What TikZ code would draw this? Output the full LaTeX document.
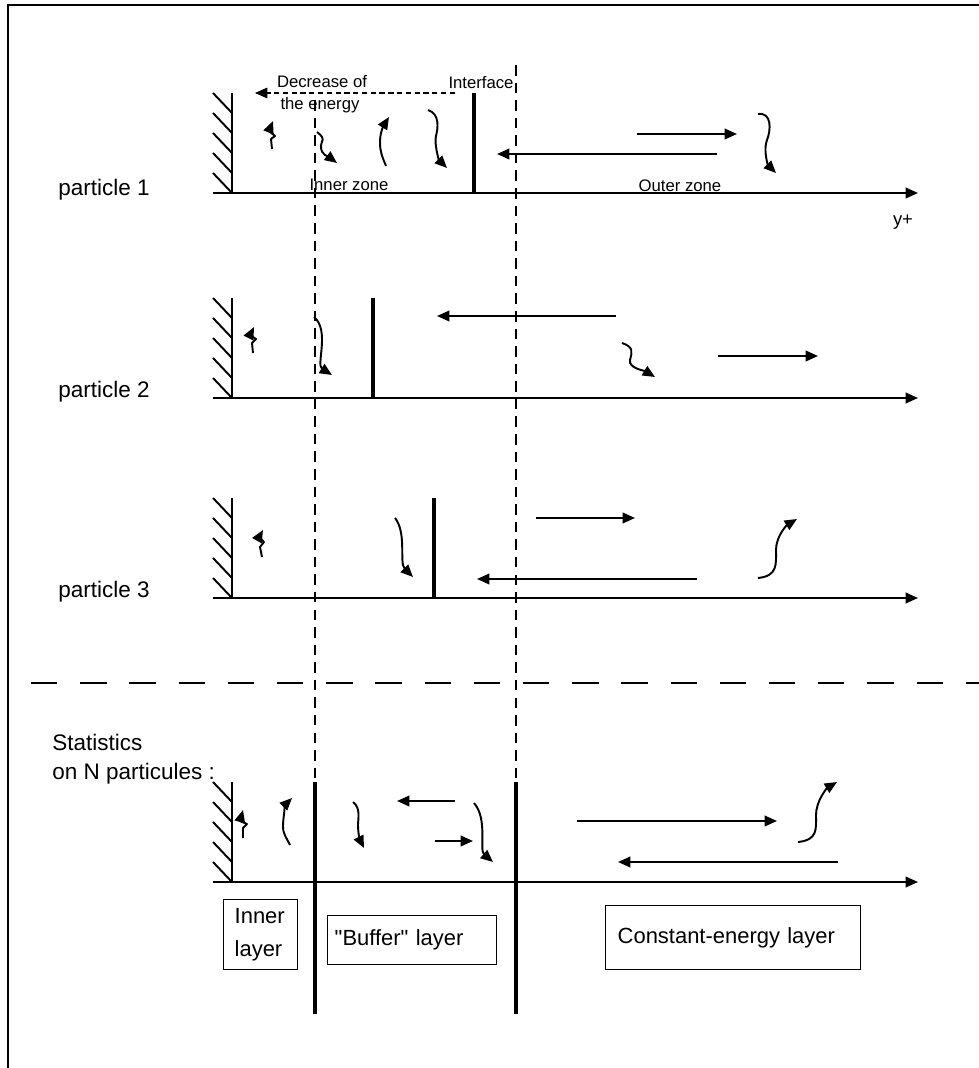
\documentclass[tikz,border=0pt]{standalone}
\usepackage{fontspec}
\setmainfont{Liberation Sans}
\usetikzlibrary{arrows.meta}

\tikzset{
    yaxis/.style={line width=1.1pt, -{Triangle[length=7pt,width=6pt]}},
    move/.style={line width=1.1pt, line join=round, -{Triangle[length=7pt,width=6pt]}},
    wallline/.style={line width=1.1pt},
    bar/.style={line width=2.5pt},
    guide/.style={line width=0.7pt, dash pattern=on 6pt off 4pt},
    split/.style={line width=1.1pt, dash pattern=on 15pt off 13pt},
    lab/.style={font=\fontsize{12.8}{14}\selectfont, inner sep=0pt, anchor=west},
    note/.style={font=\fontsize{9.5}{11}\selectfont, inner sep=0pt},
    layer/.style={draw, line width=0.8pt, anchor=north west, align=left, inner ysep=0pt,
        font=\fontsize{12.5}{18.7}\selectfont},
}

\begin{document}
\begin{tikzpicture}[x=0.02cm, y=0.02cm]
    \useasboundingbox (0,0) rectangle (979,-1068);
    \draw[line width=1.3pt] (8,-1068) -- (8,-5) -- (979,-5);

    % walls, hatching and y+ axes of the four rows
    \foreach \n/\b in {1/193, 2/398, 3/598, 4/882} {
        \coordinate (wt\n) at (232,{100-\b});
        \coordinate (wb\n) at (232,-\b);
        \coordinate (as\n) at (213,-\b);
        \coordinate (ae\n) at (918,-\b);
        \draw[wallline] (wt\n) -- (wb\n);
        \foreach \k in {0,...,4}
            \draw[wallline] (232,{20*\k-\b}) -- ++(-19,20);
        \draw[yaxis] (as\n) -- (ae\n);
    }

    % interfaces
    \coordinate (i1t) at (474,-93);
    \coordinate (i1b) at (474,-193);
    \coordinate (i2t) at (373,-298);
    \coordinate (i2b) at (373,-398);
    \coordinate (i3t) at (434,-498);
    \coordinate (i3b) at (434,-598);
    \coordinate (gLt) at (315,-100);
    \coordinate (gLb) at (315,-782);
    \coordinate (gRt) at (516,-65);
    \coordinate (gRb) at (516,-782);
    \coordinate (bLb) at (315,-1014);
    \coordinate (bRb) at (516,-1014);
    \coordinate (sepL) at (31,-683);
    \coordinate (sepR) at (979,-683);

    \draw[bar] (i1t) -- (i1b);
    \draw[bar] (i2t) -- (i2b);
    \draw[bar] (i3t) -- (i3b);
    \draw[guide] (gLt) -- (gLb);
    \draw[guide] (gRt) -- (gRb);
    \draw[bar] (gLb) -- (bLb);
    \draw[bar] (gRb) -- (bRb);
    \draw[split] (sepL) -- (sepR);

    % texts
    \node (row1) [lab] at (58,-190) {particle 1};
    \node (row2) [lab] at (58,-392) {particle 2};
    \node (row3) [lab] at (58,-592) {particle 3};
    \node (stat) [lab] at (52,-742) {Statistics};
    \node (statn) [lab] at (52,-774) {on N particules :};
    \node (dec) [note] at (322,-82) {Decrease of};
    \node (dec2) [note] at (320,-105) {the energy};
    \node (itf) [note] at (481,-83) {Interface};
    \node (inz) [note] at (349,-185) {Inner zone};
    \node (outz) [note] at (680,-186) {Outer zone};
    \node (yp) [note, font=\fontsize{10.5}{12}\selectfont] at (903,-222) {y+};

    \node (innerl) [layer, inner xsep=0.22cm, text width=1.04cm, minimum height=1.4cm] at (223,-899) {Inner\\layer};
    \node (bufl) [layer, inner xsep=0.14cm, text width=3.1cm, minimum height=0.98cm] at (327,-915) {\textquotedbl Buffer\textquotedbl{} layer};
    \node (constl) [layer, inner xsep=0.24cm, text width=4.62cm, minimum height=1.28cm] at (605,-905) {Constant-energy layer};

    % decrease of the energy
    \coordinate (d1s) at (455,-93);
    \coordinate (d1e) at (255,-93);
    \draw[line width=0.8pt, dash pattern=on 3pt off 2pt, -{Triangle[length=7pt,width=6pt]}] (d1s) -- (d1e);

    % row 1
    \coordinate (z1s) at (272,-149);
    \coordinate (z1e) at (273,-121);
    \coordinate (w1as) at (317,-132);
    \coordinate (w1ae) at (337,-163);
    \coordinate (w1bs) at (386,-166);
    \coordinate (w1be) at (389,-117);
    \coordinate (w1cs) at (428,-110);
    \coordinate (w1ce) at (447,-168);
    \coordinate (w1ds) at (758,-114);
    \coordinate (w1de) at (776,-173);
    \coordinate (r1s) at (637,-134);
    \coordinate (r1e) at (737,-134);
    \coordinate (l1s) at (717,-154);
    \coordinate (l1e) at (497,-154);

    \draw[move] (z1s) -- ++(-1,10) -- ++(4,3) -- ++(-6,5) -- (z1e);
    \draw[move] (w1as) .. controls +(10,-8) and +(0,8) .. (321,-147) .. controls +(0,-8) and +(-8,6) .. (w1ae);
    \draw[move] (w1bs) .. controls +(-4,10) and +(0,-10) .. (380,-142) .. controls +(0,10) and +(-5,-8) .. (w1be);
    \draw[move] (w1cs) .. controls +(12,-4) and +(2,8) .. (436,-136) .. controls +(-2,-8) and +(-8,8) .. (w1ce);
    \draw[move] (w1ds) .. controls +(14,2) and +(4,10) .. (767,-140) .. controls +(-4,-10) and +(-8,8) .. (w1de);
    \draw[move] (r1s) -- (r1e);
    \draw[move] (l1s) -- (l1e);

    % row 2
    \coordinate (z2s) at (253,-353);
    \coordinate (z2e) at (254,-327);
    \coordinate (w2as) at (314,-317);
    \coordinate (w2ae) at (332,-375);
    \coordinate (w2bs) at (622,-343);
    \coordinate (w2be) at (655,-377);
    \coordinate (l2s) at (616,-316);
    \coordinate (l2e) at (437,-316);
    \coordinate (r2s) at (718,-356);
    \coordinate (r2e) at (818,-356);

    \draw[move] (z2s) -- ++(-1,10) -- ++(4,4) -- ++(-6,4) -- (z2e);
    \draw[move] (w2as) .. controls +(16,-13) and +(-16,10) .. (w2ae);
    \draw[move] (w2bs) .. controls +(12,-4) and +(2,8) .. (630,-360) .. controls +(-2,-8) and +(-10,6) .. (w2be);
    \draw[move] (l2s) -- (l2e);
    \draw[move] (r2s) -- (r2e);

    % row 3
    \coordinate (z3s) at (262,-557);
    \coordinate (z3e) at (263,-530);
    \coordinate (w3as) at (395,-518);
    \coordinate (w3ae) at (413,-577);
    \coordinate (w3bs) at (758,-578);
    \coordinate (w3be) at (797,-519);
    \coordinate (r3s) at (536,-518);
    \coordinate (r3e) at (635,-518);
    \coordinate (l3s) at (697,-579);
    \coordinate (l3e) at (477,-579);

    \draw[move] (z3s) -- ++(-2,10) -- ++(4,5) -- ++(-5,5) -- (z3e);
    \draw[move] (w3as) .. controls +(12,-15) and +(-14,14) .. (w3ae);
    \draw[move] (w3bs) .. controls +(20,2) and +(0,-14) .. (776,-550) .. controls +(0,14) and +(-10,-6) .. (w3be);
    \draw[move] (r3s) -- (r3e);
    \draw[move] (l3s) -- (l3e);

    % statistics row
    \coordinate (z4s) at (243,-838);
    \coordinate (z4e) at (243,-810);
    \coordinate (w4as) at (290,-845);
    \coordinate (w4ae) at (292,-798);
    \coordinate (w4bs) at (353,-802);
    \coordinate (w4be) at (364,-848);
    \coordinate (w4cs) at (474,-803);
    \coordinate (w4ce) at (493,-862);
    \coordinate (w4ds) at (798,-842);
    \coordinate (w4de) at (837,-782);
    \coordinate (l4s) at (455,-801);
    \coordinate (l4e) at (397,-801);
    \coordinate (r4s) at (435,-841);
    \coordinate (r4e) at (473,-841);
    \coordinate (r5s) at (577,-821);
    \coordinate (r5e) at (777,-821);
    \coordinate (l5s) at (838,-862);
    \coordinate (l5e) at (618,-862);

    \draw[move] (z4s) -- ++(0,10) -- ++(4,4) -- ++(-7,3) -- (z4e);
    \draw[move] (w4as) .. controls +(-4,8) and +(0,-8) .. (283,-826) .. controls +(0,8) and +(-6,-6) .. (w4ae);
    \draw[move] (w4bs) .. controls +(8,-6) and +(0,6) .. (358,-825) .. controls +(0,-8) and +(-4,8) .. (w4be);
    \draw[move] (w4cs) .. controls +(14,-16) and +(-14,12) .. (w4ce);
    \draw[move] (w4ds) .. controls +(20,2) and +(0,-14) .. (816,-815) .. controls +(0,14) and +(-10,-6) .. (w4de);
    \draw[move] (l4s) -- (l4e);
    \draw[move] (r4s) -- (r4e);
    \draw[move] (r5s) -- (r5e);
    \draw[move] (l5s) -- (l5e);
\end{tikzpicture}
\end{document}
